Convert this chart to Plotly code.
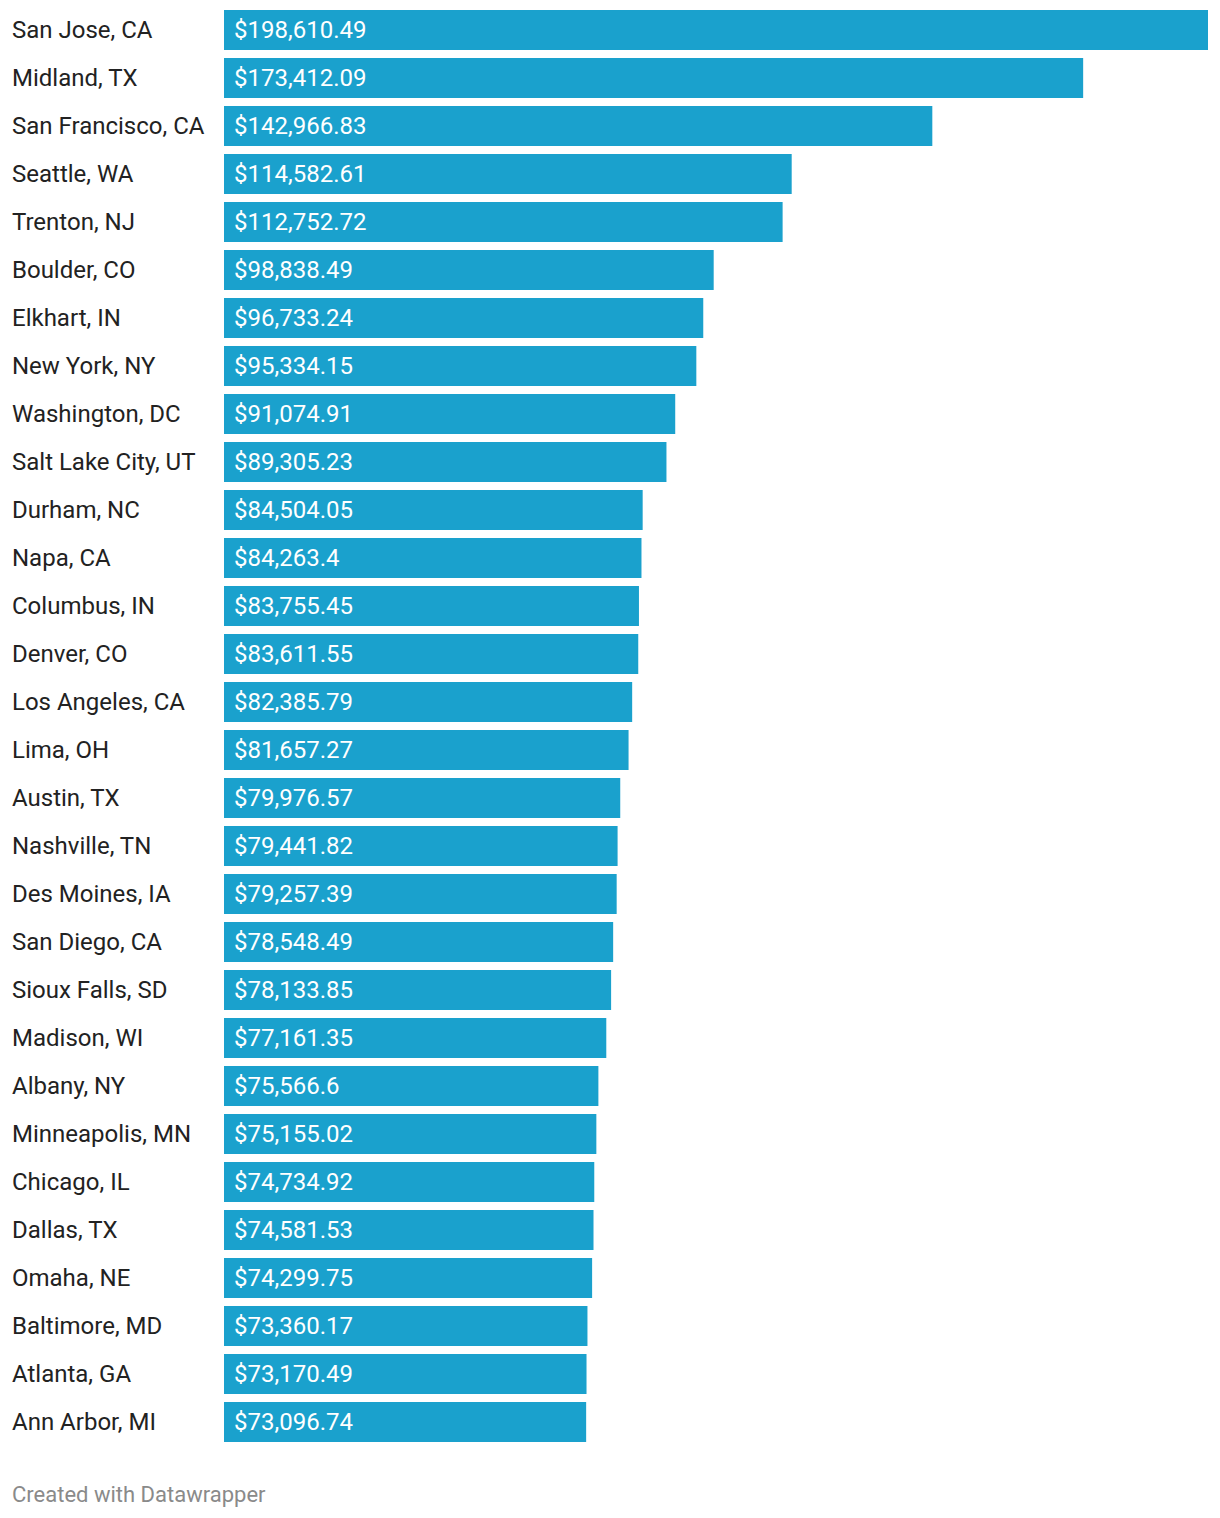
import plotly.graph_objects as go

cities = ["San Jose, CA", "Midland, TX", "San Francisco, CA", "Seattle, WA", "Trenton, NJ",
          "Boulder, CO", "Elkhart, IN", "New York, NY", "Washington, DC", "Salt Lake City, UT",
          "Durham, NC", "Napa, CA", "Columbus, IN", "Denver, CO", "Los Angeles, CA",
          "Lima, OH", "Austin, TX", "Nashville, TN", "Des Moines, IA", "San Diego, CA",
          "Sioux Falls, SD", "Madison, WI", "Albany, NY", "Minneapolis, MN", "Chicago, IL",
          "Dallas, TX", "Omaha, NE", "Baltimore, MD", "Atlanta, GA", "Ann Arbor, MI"]
values = [198610.49, 173412.09, 142966.83, 114582.61, 112752.72,
          98838.49, 96733.24, 95334.15, 91074.91, 89305.23,
          84504.05, 84263.4, 83755.45, 83611.55, 82385.79,
          81657.27, 79976.57, 79441.82, 79257.39, 78548.49,
          78133.85, 77161.35, 75566.6, 75155.02, 74734.92,
          74581.53, 74299.75, 73360.17, 73170.49, 73096.74]

# page is rendered with an 8px body margin, so the figure is offset by 8px
OFF = 8
W, H = 1220 - OFF, 1518 - OFF
L, R, T, B = 224 - OFF, 12, 0, 70
plot_w = W - L - R
plot_h = H - T - B
n = len(cities)
pitch = plot_h / n
top = -(30 - OFF) / pitch  # category 0 center at page y=30

fig = go.Figure(go.Bar(
    x=values, y=cities, orientation="h",
    marker=dict(color="#1aa1cd", line=dict(width=0)),
    hoverinfo="skip",
))

ann = []
for c, v in zip(cities, values):
    ann.append(dict(x=0, y=c, xref="x", yref="y", text="$" + format(v, ","),
                    showarrow=False, xanchor="left", xshift=8,
                    font=dict(family="Roboto", size=24, color="white")))
    ann.append(dict(x=(10 - 224) / plot_w, y=c, xref="paper", yref="y", text=c,
                    showarrow=False, xanchor="left",
                    font=dict(family="Roboto", size=24, color="#222222")))
ann.append(dict(x=(10 - 224) / plot_w, y=-(1494 - OFF - (H - B)) / plot_h,
                xref="paper", yref="paper",
                text="Created with Datawrapper", showarrow=False, xanchor="left", yanchor="middle",
                font=dict(family="Roboto", size=22, color="#8a8a8a")))

fig.update_layout(
    width=W, height=H,
    margin=dict(l=L, r=R, t=T, b=B, pad=0),
    paper_bgcolor="white", plot_bgcolor="white",
    bargap=8 / 48,
    showlegend=False,
    xaxis=dict(range=[0, max(values)], visible=False, fixedrange=True),
    yaxis=dict(categoryorder="array", categoryarray=cities, range=[top + n, top],
               showticklabels=False, showgrid=False, zeroline=False, fixedrange=True),
    annotations=ann,
)

fig.write_html("out.html")
